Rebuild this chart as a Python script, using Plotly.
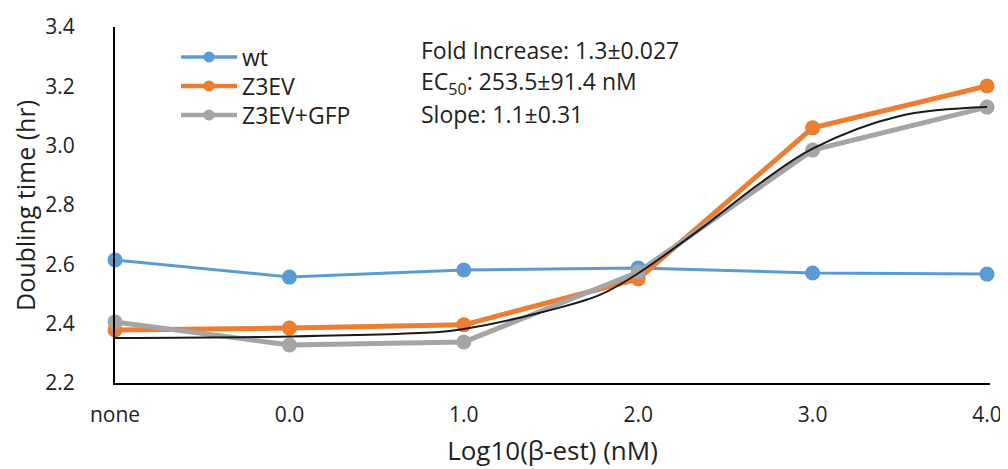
import plotly.graph_objects as go

categories = ["none", "0.0", "1.0", "2.0", "3.0", "4.0"]
wt = [2.615, 2.557, 2.581, 2.588, 2.571, 2.567]
z3ev = [2.379, 2.385, 2.396, 2.551, 3.060, 3.201]
z3ev_gfp = [2.406, 2.328, 2.338, 2.574, 2.985, 3.130]

# fitted curve (position in category units, value)
fit_x = [0, 1, 1.86, 2, 2.43, 2.78, 3, 3.35, 3.7, 4, 4.5, 5]
fit_y = [2.352, 2.357, 2.372, 2.382, 2.436, 2.497, 2.57, 2.716, 2.874, 2.99, 3.10, 3.13]

series_names = ["wt", "Z3EV", "Z3EV+GFP"]
series_colors = ["#5B9BD5", "#ED7D31", "#A5A5A5"]
series_widths = [3, 5, 5]

FONT = "Open Sans"
TXT = "#231F20"
OFF = 8  # page body margin offset
W, H = 1008 - OFF, 469 - OFF
ML, MT = 115 - OFF, 27 - OFF
PW, PH = 875, 356
MR, MB = W - ML - PW, H - MT - PH


def px_x(p):
    return (p - OFF - ML) / PW


def px_y(p):
    return (MT + PH - (p - OFF)) / PH


xi = list(range(len(categories)))

fig = go.Figure()
for name, vals, col, lw in zip(series_names, [wt, z3ev, z3ev_gfp], series_colors, series_widths):
    fig.add_trace(go.Scatter(x=xi, y=vals, name=name, mode="lines+markers",
                             line=dict(color=col, width=lw),
                             marker=dict(size=15, color=col), cliponaxis=False,
                             showlegend=False))
fig.add_trace(go.Scatter(x=fit_x, y=fit_y, mode="lines", showlegend=False, name="fit",
                         line=dict(color="#1a1a1a", width=2, shape="spline"),
                         cliponaxis=False))

# custom legend (long line samples as in the reference)
leg_rows = [57, 86, 115]
leg_widths = [3.5, 4.5, 4.5]
for name, col, lw, py in zip(series_names, series_colors, leg_widths, leg_rows):
    fig.add_shape(type="line", xref="paper", yref="paper",
                  x0=px_x(181), x1=px_x(237), y0=px_y(py), y1=px_y(py),
                  line=dict(color=col, width=lw))
    fig.add_shape(type="circle", xref="paper", yref="paper",
                  xsizemode="pixel", ysizemode="pixel",
                  xanchor=px_x(209), yanchor=px_y(py),
                  x0=-5.5, x1=5.5, y0=-5.5, y1=5.5,
                  line=dict(width=0), fillcolor=col)
    fig.add_annotation(text=name, xref="paper", yref="paper",
                       x=px_x(240), y=px_y(py), xanchor="left", yanchor="middle",
                       showarrow=False, font=dict(size=23, color=TXT))

fig.update_layout(
    width=W, height=H,
    margin=dict(l=ML, r=MR, t=MT, b=MB),
    paper_bgcolor="white", plot_bgcolor="white",
    font=dict(family=FONT, size=20, color=TXT),
    showlegend=False,
    xaxis=dict(range=[0, 5.017], tickmode="array", tickvals=xi, ticktext=categories,
               showgrid=False, zeroline=False, showline=True, linecolor="black",
               linewidth=2, ticks="", ticklabelstandoff=12, automargin=False,
               tickfont=dict(size=21, color=TXT),
               title=dict(text="Log10(β-est) (nM)", font=dict(size=26, color=TXT),
                          standoff=15)),
    yaxis=dict(range=[2.2, 3.4], tickmode="array",
               tickvals=[2.2, 2.4, 2.6, 2.8, 3.0, 3.2, 3.4],
               ticktext=["2.2", "2.4", "2.6", "2.8", "3.0", "3.2", "3.4"],
               showgrid=False, zeroline=False, showline=True, linecolor="black",
               linewidth=2, ticks="", ticklabelstandoff=34, automargin=False,
               tickfont=dict(size=21, color=TXT)),
)

# y-axis title placed precisely
fig.add_annotation(text="Doubling time (hr)", xref="paper", yref="paper",
                   x=px_x(25), y=px_y(206), xanchor="center", yanchor="middle",
                   textangle=-90, showarrow=False, borderpad=0,
                   font=dict(size=25, color=TXT))

ann = [("Fold Increase: 1.3±0.027", 50), ("EC<sub>50</sub>: 253.5±91.4 nM", 82),
       ("Slope: 1.1±0.31", 114)]
for txt, py in ann:
    fig.add_annotation(text=txt, xref="paper", yref="paper",
                       x=px_x(419), y=px_y(py),
                       xanchor="left", yanchor="middle", showarrow=False,
                       font=dict(size=23, color=TXT))

fig.write_html("out.html")
